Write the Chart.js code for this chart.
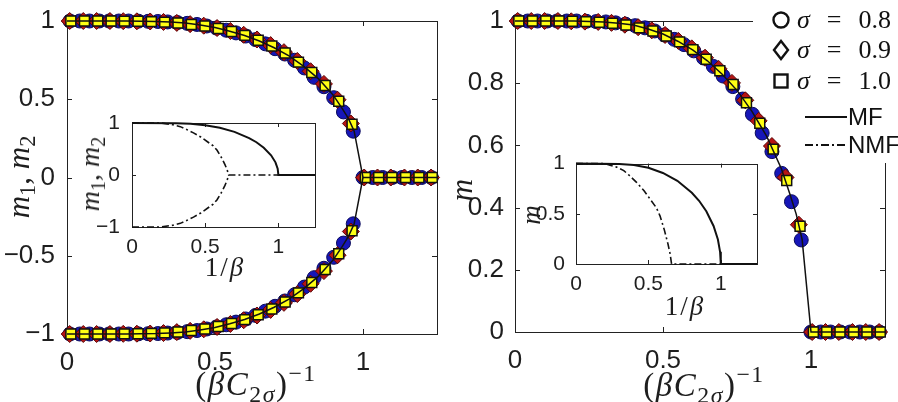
<!DOCTYPE html>
<html>
<head>
<meta charset="utf-8">
<script src="https://cdn.jsdelivr.net/npm/chart.js@4"></script>
<style>
  body { margin: 0; background: #fff; }
  #fig { position: relative; width: 898px; height: 402px; background: #fff; overflow: hidden; }
  canvas { position: absolute; }
  .lbl { position: absolute; white-space: nowrap; line-height: 1; color: #1e1e1e;
         font-family: 'Liberation Serif', 'Times New Roman', serif; transform: translate(-50%, -50%); }
  .lbl.rot { transform: translate(-50%, -50%) rotate(-90deg); }
  .lbl sub, .lbl sup { font-size: 72%; line-height: 0; }
  .lbl sub { vertical-align: -0.3em; }
  .lbl sup { vertical-align: 0.55em; }
  #legend { position: absolute; left: 753px; top: 0; width: 145px; height: 163px; }
  .row { position: absolute; left: 0; height: 30px; display: flex; align-items: center; white-space: nowrap; color: #111; }
  .row svg { position: absolute; }
  .row .t { position: absolute; left: 44px; font-family: 'Liberation Serif', serif; font-size: 26px; word-spacing: 2px; }
  .row .s { position: absolute; left: 95px; font-family: 'Liberation Sans', sans-serif; font-size: 24px; }
</style>
</head>
<body>
<div id="fig">
  <canvas id="mainLeft" width="449" height="402" style="left:0;top:0"></canvas>
  <canvas id="mainRight" width="449" height="402" style="left:449px;top:0"></canvas>
  <canvas id="insetLeft" width="245" height="152" style="left:80px;top:105px"></canvas>
  <canvas id="insetRight" width="237" height="146" style="left:530px;top:148px"></canvas>

  <div class="lbl rot" style="left:18px;top:177px;font-size:31px"><i>m</i><sub>1</sub>, <i>m</i><sub>2</sub></div>
  <div class="lbl" style="left:256px;top:384px;font-size:33px;letter-spacing:1.5px">(<i>βC</i><sub>2<i>σ</i></sub>)<sup>−1</sup></div>
  <div class="lbl rot" style="left:461px;top:190px;font-size:31px"><i>m</i></div>
  <div class="lbl" style="left:704px;top:385px;font-size:33px;letter-spacing:1.5px">(<i>βC</i><sub>2<i>σ</i></sub>)<sup>−1</sup></div>

  <div class="lbl rot" style="left:90px;top:174px;font-size:28px"><i>m</i><sub>1</sub>, <i>m</i><sub>2</sub></div>
  <div class="lbl" style="left:225px;top:267px;font-size:27px;letter-spacing:2px">1/<i>β</i></div>
  <div class="lbl rot" style="left:531px;top:215px;font-size:27px"><i>m</i></div>
  <div class="lbl" style="left:685px;top:306px;font-size:27px;letter-spacing:2px">1/<i>β</i></div>

  <div id="legend">
    <div class="row" style="top:5px">
      <svg width="24" height="24" style="left:16px"><circle cx="12" cy="12" r="7.5" fill="none" stroke="#111" stroke-width="2.4"/></svg>
      <span class="t"><i>σ</i>&nbsp;&nbsp;=&nbsp;&nbsp;0.8</span>
    </div>
    <div class="row" style="top:35px">
      <svg width="24" height="24" style="left:16px"><polygon points="12,3 19,12 12,21 5,12" fill="none" stroke="#111" stroke-width="2.4"/></svg>
      <span class="t"><i>σ</i>&nbsp;&nbsp;=&nbsp;&nbsp;0.9</span>
    </div>
    <div class="row" style="top:66px">
      <svg width="24" height="24" style="left:16px"><rect x="5.5" y="5.5" width="13" height="13" fill="none" stroke="#111" stroke-width="2.4"/></svg>
      <span class="t"><i>σ</i>&nbsp;&nbsp;=&nbsp;&nbsp;1.0</span>
    </div>
    <div class="row" style="top:102px">
      <svg width="44" height="10" style="left:52px"><line x1="0" y1="5" x2="42" y2="5" stroke="#111" stroke-width="2"/></svg>
      <span class="s">MF</span>
    </div>
    <div class="row" style="top:130px">
      <svg width="44" height="10" style="left:52px"><line x1="0" y1="5" x2="42" y2="5" stroke="#111" stroke-width="2" stroke-dasharray="8 3 2 3"/></svg>
      <span class="s">NMF</span>
    </div>
  </div>
</div>

<script>
// mean-field curve (solid line in both main panels)
const mfX = [0, 0.1, 0.2, 0.3, 0.35, 0.4, 0.45, 0.5, 0.55, 0.6, 0.65, 0.7, 0.75, 0.8, 0.85, 0.9, 0.93, 0.95, 0.97, 1.0, 1.25];
const mfM = [1, 1, 1, 0.997, 0.993, 0.987, 0.974, 0.958, 0.935, 0.907, 0.872, 0.829, 0.777, 0.710, 0.630, 0.525, 0.440, 0.379, 0.298, 0, 0];
const mfMlow = [-1, -1, -1, -0.997, -0.993, -0.987, -0.974, -0.958, -0.935, -0.907, -0.872, -0.829, -0.777, -0.710, -0.630, -0.525, -0.440, -0.379, -0.298, 0];

// simulation points, sigma = 0.8 (circles)
const ciX = [0.010, 0.043, 0.076, 0.109, 0.142, 0.175, 0.208, 0.241, 0.274, 0.307, 0.340, 0.373, 0.406, 0.439, 0.472, 0.505, 0.538, 0.571, 0.604, 0.637,
             0.670, 0.703, 0.736, 0.769, 0.802, 0.835, 0.868, 0.901, 0.934, 0.967, 1.000, 1.033, 1.066, 1.099, 1.132, 1.165, 1.198, 1.231];
const ciY = [1, 1, 1, 1, 1, 1, 1, 0.999, 0.998, 0.997, 0.994, 0.990, 0.985, 0.978, 0.968, 0.955, 0.941, 0.924, 0.904, 0.881,
             0.854, 0.823, 0.789, 0.749, 0.700, 0.640, 0.580, 0.510, 0.419, 0.296, 0, 0, 0, 0, 0, 0, 0, 0];
const ciYlow = [-1, -1, -1, -1, -1, -1, -1, -0.999, -0.998, -0.997, -0.994, -0.990, -0.985, -0.978, -0.968, -0.955, -0.941, -0.924, -0.904, -0.881,
                -0.854, -0.823, -0.789, -0.749, -0.700, -0.640, -0.580, -0.510, -0.419, -0.296];

// sigma = 0.9 (diamonds)
const dmX = [0.009, 0.055, 0.100, 0.145, 0.190, 0.236, 0.281, 0.326, 0.371, 0.416, 0.462, 0.507, 0.552, 0.597,
             0.642, 0.688, 0.733, 0.778, 0.823, 0.868, 0.914, 0.959, 1.004, 1.049, 1.094, 1.140, 1.185, 1.230];
const dmY = [1, 1, 1, 1, 0.999, 0.998, 0.997, 0.994, 0.988, 0.980, 0.970, 0.955, 0.936, 0.912,
             0.882, 0.846, 0.801, 0.745, 0.679, 0.598, 0.497, 0.345, 0, 0, 0, 0, 0, 0];
const dmYlow = [-1, -1, -1, -1, -0.999, -0.998, -0.997, -0.994, -0.988, -0.980, -0.970, -0.955, -0.936, -0.912,
                -0.882, -0.846, -0.801, -0.745, -0.679, -0.598, -0.497, -0.345];

// sigma = 1.0 (squares)
const sqX = [0.013, 0.059, 0.104, 0.149, 0.194, 0.240, 0.285, 0.330, 0.375, 0.420, 0.466, 0.511, 0.556, 0.601,
             0.646, 0.692, 0.737, 0.782, 0.827, 0.872, 0.918, 0.963, 1.008, 1.053, 1.098, 1.144, 1.189, 1.234];
const sqY = [1, 1, 1, 1, 0.999, 0.998, 0.996, 0.993, 0.987, 0.978, 0.968, 0.952, 0.933, 0.908,
             0.877, 0.840, 0.796, 0.737, 0.671, 0.588, 0.487, 0.340, 0, 0, 0, 0, 0, 0];
const sqYlow = [-1, -1, -1, -1, -0.999, -0.998, -0.996, -0.993, -0.987, -0.978, -0.968, -0.952, -0.933, -0.908,
                -0.877, -0.840, -0.796, -0.737, -0.671, -0.588, -0.487, -0.340];

// insets: MF and NMF against 1/beta
const inMfX = [0, 0.3, 0.4, 0.5, 0.6, 0.7, 0.8, 0.85, 0.9, 0.95, 0.98, 0.995, 1.0, 1.25];
const inMfM = [1, 0.997, 0.987, 0.958, 0.907, 0.829, 0.710, 0.630, 0.525, 0.379, 0.244, 0.122, 0, 0];
const nmfX = [0, 0.2, 0.28, 0.33, 0.37, 0.42, 0.47, 0.52, 0.555, 0.58, 0.61, 0.635, 0.65, 0.66, 1.0];
const nmfM = [1, 1, 0.965, 0.93, 0.88, 0.81, 0.73, 0.63, 0.56, 0.48, 0.34, 0.2, 0.1, 0, 0];
const nmfMlow = [-1, -1, -0.965, -0.93, -0.88, -0.81, -0.73, -0.63, -0.56, -0.48, -0.34, -0.2, -0.1, 0];

// tick positions
const xTicks = [0, 0.5, 1];
const leftYTicks = [-1, -0.5, 0, 0.5, 1];
const rightYTicks = [0, 0.2, 0.4, 0.6, 0.8, 1];
const insetLeftYTicks = [-1, 0, 1];
const insetRightYTicks = [0, 0.5, 1];

Chart.defaults.font.family = "'Liberation Sans', Arial, sans-serif";
Chart.defaults.color = '#1e1e1e';
Chart.defaults.animation = false;

function pts(xs, ys) {
    return ys.map((y, i) => ({ x: xs[i], y: y }));
}

const fmt = v => (Math.round(v * 100) / 100).toString().replace('-', '\u2212');

// box around the plot area with inward ticks on all four sides;
// opts.cut is a canvas rectangle left blank for the legend
const frame = {
    id: 'frame',
    beforeDatasetsDraw(chart, args, opts) {
        const { ctx, chartArea: a, scales: { x, y } } = chart;
        const len = opts.len || 5;
        ctx.save();
        if (opts.cut) {
            const c = opts.cut;
            ctx.beginPath();
            ctx.rect(0, 0, chart.width, chart.height);
            ctx.rect(c.left, c.top, c.right - c.left, c.bottom - c.top);
            ctx.clip('evenodd');
        }
        ctx.strokeStyle = '#222';
        ctx.lineWidth = 1;
        ctx.strokeRect(Math.round(a.left) + 0.5, Math.round(a.top) + 0.5, Math.round(a.width), Math.round(a.height));
        ctx.beginPath();
        x.ticks.forEach(t => {
            const px = Math.round(x.getPixelForValue(t.value)) + 0.5;
            ctx.moveTo(px, a.bottom); ctx.lineTo(px, a.bottom - len);
            ctx.moveTo(px, a.top); ctx.lineTo(px, a.top + len);
        });
        y.ticks.forEach(t => {
            const py = Math.round(y.getPixelForValue(t.value)) + 0.5;
            ctx.moveTo(a.left, py); ctx.lineTo(a.left + len, py);
            ctx.moveTo(a.right, py); ctx.lineTo(a.right - len, py);
        });
        ctx.stroke();
        ctx.restore();
    }
};

function line(data, dash, width) {
    return { type: 'line', data: data, showLine: true, borderColor: '#111', borderWidth: width || 1.5,
             borderDash: dash || [], pointRadius: 0, fill: false, tension: 0, clip: false, order: 0 };
}
function circles(data) {
    return { data: data, pointStyle: 'circle', pointRadius: 7, backgroundColor: '#1616b8',
             borderColor: '#0a0a5c', borderWidth: 1, clip: false, order: 3 };
}
function diamonds(data) {
    return { data: data, pointStyle: 'rectRot', pointRadius: 8.5, backgroundColor: '#b81414',
             borderColor: '#5a0606', borderWidth: 1, clip: false, order: 2 };
}
function squares(data) {
    return { data: data, pointStyle: 'rect', pointRadius: 7, backgroundColor: '#ffff14',
             borderColor: '#111', borderWidth: 1.5, clip: false, order: 1 };
}

function axes(yTicks, yMin, yMax, yWidth, xHeight, fontSize, yPad, xPad) {
    const font = { size: fontSize };
    return {
        x: {
            type: 'linear', min: 0, max: 1.25,
            afterBuildTicks: s => { s.ticks = xTicks.map(v => ({ value: v })); },
            afterFit: s => { s.height = xHeight; },
            grid: { display: false }, border: { display: false },
            ticks: { font: font, padding: xPad, maxRotation: 0, autoSkip: false, callback: fmt }
        },
        y: {
            type: 'linear', min: yMin, max: yMax,
            afterBuildTicks: s => { s.ticks = yTicks.map(v => ({ value: v })); },
            afterFit: s => { s.width = yWidth; },
            grid: { display: false }, border: { display: false },
            ticks: { font: font, padding: yPad, autoSkip: false, callback: fmt }
        }
    };
}

function makeChart(id, datasets, scales, padding, frameOpts) {
    new Chart(document.getElementById(id), {
        type: 'scatter',
        data: { datasets: datasets },
        options: {
            responsive: false,
            layout: { padding: padding },
            plugins: { legend: { display: false }, tooltip: { enabled: false }, frame: frameOpts },
            scales: scales
        },
        plugins: [frame]
    });
}

// left: both branches m1, m2
makeChart('mainLeft', [
    line(pts(mfX, mfM)),
    line(pts(mfX, mfMlow)),
    squares(pts(sqX, sqY).concat(pts(sqX, sqYlow))),
    diamonds(pts(dmX, dmY).concat(pts(dmX, dmYlow))),
    circles(pts(ciX, ciY).concat(pts(ciX, ciYlow)))
], axes(leftYTicks, -1, 1, 67, 68, 26, 4, 5), { top: 21, right: 12 }, { len: 5 });

// right: m (top right corner of the box sits under the legend)
makeChart('mainRight', [
    line(pts(mfX, mfM)),
    squares(pts(sqX, sqY)),
    diamonds(pts(dmX, dmY)),
    circles(pts(ciX, ciY))
], axes(rightYTicks, 0, 1, 66, 70, 26, 3, 5), { top: 21, right: 13 },
   { len: 5, cut: { left: 304, top: 0, right: 449, bottom: 163 } });

makeChart('insetLeft', [
    line(pts(inMfX, inMfM), [], 2),
    line(pts(nmfX, nmfM), [7, 3, 2, 3], 1.6),
    line(pts(nmfX, nmfMlow), [7, 3, 2, 3], 1.6)
], axes(insetLeftYTicks, -1, 1, 52, 30, 21, 4, 0), { top: 18, right: 10 }, { len: 4 });

makeChart('insetRight', [
    line(pts(inMfX, inMfM), [], 2),
    line(pts(nmfX, nmfM), [7, 3, 2, 3], 1.6)
], axes(insetRightYTicks, 0, 1, 46, 30, 21, 3, 0), { top: 15, right: 10 }, { len: 4 });
</script>
</body>
</html>
